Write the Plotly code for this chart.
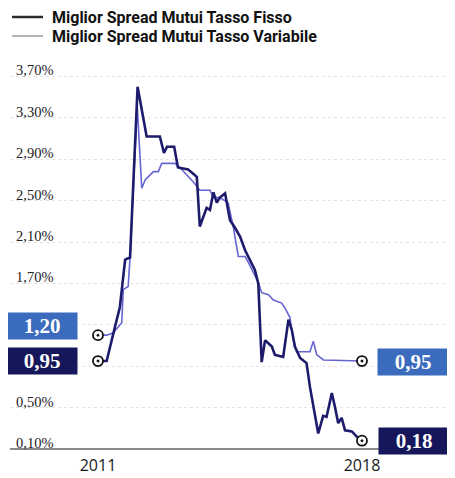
import plotly.graph_objects as go

# ---- data ----
fisso_x = [2011.00, 2011.23, 2011.45, 2011.58, 2011.72, 2011.85, 2012.05, 2012.29, 2012.64,
           2012.75, 2012.83, 2013.02, 2013.12, 2013.39, 2013.62, 2013.70, 2013.88, 2013.97,
           2014.06, 2014.15, 2014.23, 2014.37, 2014.45, 2014.50, 2014.63, 2014.77, 2014.90,
           2015.03, 2015.16, 2015.25, 2015.34, 2015.43, 2015.61, 2015.69, 2015.91, 2016.05,
           2016.14, 2016.22, 2016.36, 2016.53, 2016.62, 2016.84, 2016.97, 2017.06, 2017.20,
           2017.28, 2017.37, 2017.46, 2017.55, 2017.73, 2017.86, 2018.00]
fisso_y = [0.95, 0.95, 1.28, 1.47, 1.93, 1.95, 3.60, 3.12, 3.12,
           2.96, 3.02, 3.02, 2.82, 2.80, 2.73, 2.25, 2.43, 2.41,
           2.58, 2.48, 2.53, 2.57, 2.41, 2.31, 2.24, 2.15, 2.02,
           1.93, 1.83, 1.70, 0.94, 1.15, 1.09, 1.01, 0.99, 1.35,
           1.25, 1.09, 0.98, 0.93, 0.70, 0.25, 0.42, 0.41, 0.64,
           0.51, 0.35, 0.40, 0.28, 0.27, 0.22, 0.18]

var_x = [2011.00, 2011.23, 2011.40, 2011.63, 2011.67, 2011.80, 2011.85, 2012.04, 2012.16,
         2012.25, 2012.47, 2012.60, 2012.69, 2013.04, 2013.17, 2013.53, 2013.70, 2013.97,
         2014.06, 2014.23, 2014.45, 2014.59, 2014.72, 2014.90, 2014.99, 2015.08, 2015.25,
         2015.34, 2015.52, 2015.65, 2015.87, 2015.96, 2016.09, 2016.18, 2016.27, 2016.62,
         2016.71, 2016.80, 2016.98, 2018.00]
var_y = [1.20, 1.20, 1.22, 1.32, 1.64, 1.67, 1.95, 3.42, 2.62,
         2.70, 2.78, 2.78, 2.86, 2.86, 2.82, 2.68, 2.60, 2.60,
         2.53, 2.53, 2.48, 2.24, 1.96, 1.96, 1.90, 1.83, 1.71,
         1.61, 1.59, 1.54, 1.51, 1.46, 1.37, 1.15, 1.04, 1.04,
         1.14, 1.01, 0.96, 0.95]

y_tickvals = [0.1, 0.5, 0.9, 1.3, 1.7, 2.1, 2.5, 2.9, 3.3, 3.7]
y_ticktext = ["0,10%", "0,50%", "", "", "1,70%", "2,10%", "2,50%", "2,90%", "3,30%", "3,70%"]
x_tickvals = [2011, 2018]
x_ticktext = ["2011", "2018"]
y_base = 0.1  # level of the x axis line

name_fisso = "Miglior Spread Mutui Tasso Fisso"
name_var = "Miglior Spread Mutui Tasso Variabile"

c_fisso = "#1d1b6c"
c_var = "#6664d2"
box_fisso = "#16165a"
box_var = "#3b6bbd"

# page body has an 8px margin: size the figure so it fits the window
OFF = 8
W, H = 455 - OFF, 478 - OFF
ML, MR, MT, MB = 2, 8, 47, 21
PW, PH = W - ML - MR, H - MT - MB
Y_MIN, Y_MAX = 0.0227, 3.907


def fmt(v):
    return f"{v:.2f}".replace(".", ",")


def px_x(p):  # window pixel -> paper x
    return (p - OFF - ML) / PW


def px_y(p):  # window pixel (from top) -> paper y
    return (H - MB - (p - OFF)) / PH


fig = go.Figure()

# legend entries (swatches drawn as shapes below)
fig.add_trace(go.Scatter(x=[None], y=[None], mode="lines", name=name_fisso,
                         legend="legend",
                         line=dict(color="rgba(0,0,0,0)", width=0)))
fig.add_trace(go.Scatter(x=[None], y=[None], mode="lines", name=name_var,
                         legend="legend2",
                         line=dict(color="rgba(0,0,0,0)", width=0)))

fig.add_trace(go.Scatter(x=var_x, y=var_y, mode="lines", showlegend=False,
                         line=dict(color=c_var, width=1.6)))
fig.add_trace(go.Scatter(x=fisso_x, y=fisso_y, mode="lines", showlegend=False,
                         line=dict(color=c_fisso, width=2.6)))

# endpoint markers
end_x = [var_x[0], fisso_x[0], var_x[-1], fisso_x[-1]]
end_y = [var_y[0], fisso_y[0], var_y[-1], fisso_y[-1]]
fig.add_trace(go.Scatter(x=end_x, y=end_y, mode="markers", showlegend=False,
                         marker=dict(symbol="circle-dot", size=10, color="white",
                                     line=dict(color="#111111", width=1.8))))

box_font = dict(family="Liberation Serif", size=21, color="white", weight="bold")
labels = [
    (var_x[0], var_y[0], "right", -20, 9, box_var),
    (fisso_x[0], fisso_y[0], "right", -20, 0, box_fisso),
    (var_x[-1], var_y[-1], "left", 15, -1, box_var),
    (fisso_x[-1], fisso_y[-1], "left", 16, 0, box_fisso),
]
for x, y, anchor, xs, ys, col in labels:
    fig.add_annotation(x=x, y=y, text=fmt(y), showarrow=False, xanchor=anchor,
                       yanchor="middle", xshift=xs, yshift=ys, bgcolor=col,
                       width=64, height=20, borderpad=3, align="center",
                       font=box_font)

# legend swatch lines
LEG1_Y, LEG2_Y = 17, 36
fig.add_shape(type="line", xref="paper", yref="paper",
              x0=px_x(12), x1=px_x(43), y0=px_y(LEG1_Y), y1=px_y(LEG1_Y),
              line=dict(color="#2a2a2a", width=2.5))
fig.add_shape(type="line", xref="paper", yref="paper",
              x0=px_x(12), x1=px_x(43), y0=px_y(LEG2_Y), y1=px_y(LEG2_Y),
              line=dict(color="#9a9a9a", width=1.5))

leg_common = dict(xref="container", yref="container", xanchor="left", yanchor="middle",
                  font=dict(family="Roboto", size=16, color="#111111", weight="bold"),
                  bgcolor="rgba(0,0,0,0)", itemwidth=30)

fig.update_layout(
    width=W, height=H,
    margin=dict(l=ML, r=MR, t=MT, b=MB, autoexpand=False),
    paper_bgcolor="white", plot_bgcolor="white",
    showlegend=True,
    legend=dict(x=(53 - 41 - OFF) / W, y=1 - (LEG1_Y - OFF) / H, **leg_common),
    legend2=dict(x=(53 - 41 - OFF) / W, y=1 - (LEG2_Y - OFF) / H, **leg_common),
    xaxis=dict(range=[2008.667, 2020.254], tickvals=x_tickvals, ticktext=x_ticktext,
               showgrid=False, zeroline=False, showline=True, linecolor="#8a8a8a",
               linewidth=1.5, ticks="", ticklabelstandoff=2,
               anchor="free", position=(y_base - Y_MIN) / (Y_MAX - Y_MIN),
               tickfont=dict(family="Open Sans", size=16, color="#1a1a1a")),
    yaxis=dict(range=[Y_MIN, Y_MAX], tickvals=y_tickvals, ticktext=y_ticktext,
               showgrid=True, gridcolor="#e4e4e4", griddash="dot", gridwidth=1,
               zeroline=False, showline=False, ticks="",
               ticklabelposition="inside top", ticklabelshift=4, ticklabelstandoff=3,
               tickfont=dict(family="Liberation Serif", size=14.5, color="#222222")),
)

fig.write_html("out.html")
